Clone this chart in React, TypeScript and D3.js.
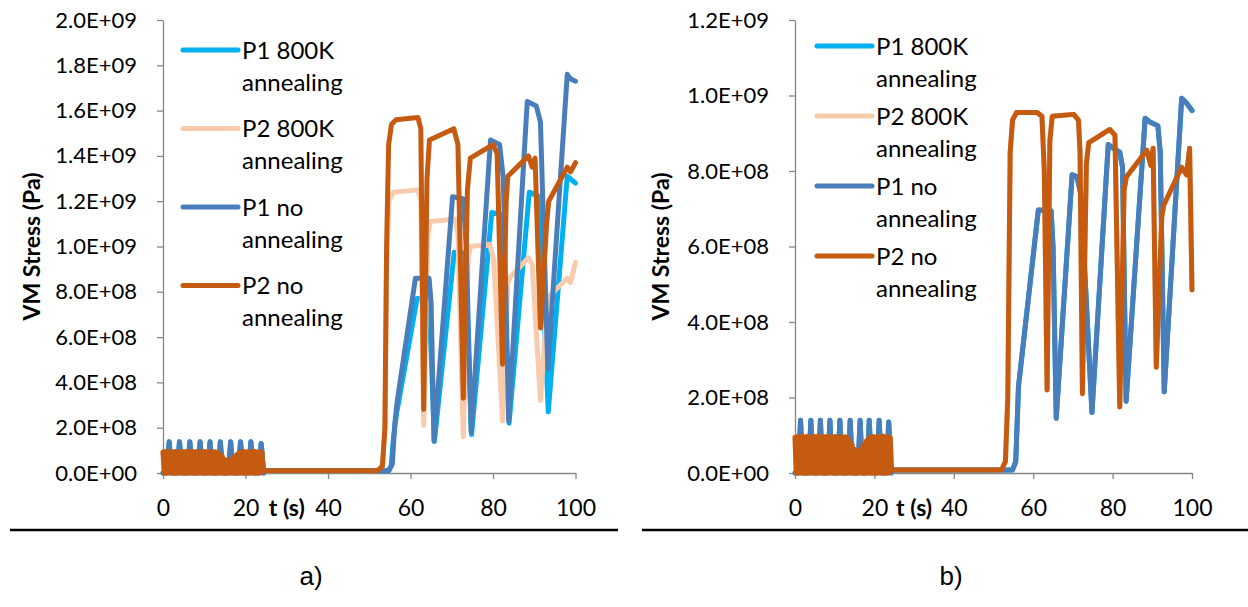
import * as d3 from "d3";
import { useEffect, useRef } from "react";

type Pt = [number, number];

// axes
const xTicks = [0, 20, 40, 60, 80, 100];
const yTicksA = [0, 2e8, 4e8, 6e8, 8e8, 1e9, 1.2e9, 1.4e9, 1.6e9, 1.8e9, 2e9];
const yTicksB = [0, 2e8, 4e8, 6e8, 8e8, 1e9, 1.2e9];

// series (drawing order = legend order)
const seriesLabels = [
  ["P1 800K", "annealing"],
  ["P2 800K", "annealing"],
  ["P1 no", "annealing"],
  ["P2 no", "annealing"],
];
const seriesColors = ["#00b0f0", "#f8cbad", "#4a7ebb", "#c55a11"];

// first 24 s: P1 oscillates in spikes, P2 in a dense band
const spikeTimesA = [1.5, 4, 6.5, 9, 11.4, 13.9, 16.4, 18.8, 21.3, 23.8];
const spikePeaksA = [1.38e8, 1.38e8, 1.38e8, 1.38e8, 1.38e8, 1.38e8, 1.38e8, 1.38e8, 1.38e8, 1.3e8];
const spikeTimesB = [1.4, 4, 6.4, 8.8, 11.3, 13.9, 16.4, 18.7, 21.2, 23.6];
const spikePeaksB = [1.4e8, 1.4e8, 1.4e8, 1.4e8, 1.4e8, 1.4e8, 1.4e8, 1.4e8, 1.4e8, 1.35e8];

const bandTimes = [0, 0.6, 1.2, 1.8, 2.4, 3, 3.6, 4.2, 4.8, 5.4, 6, 6.6, 7.2, 7.8, 8.4, 9, 9.6, 10.2, 10.8, 11.4,
  12, 12.6, 13.2, 13.8, 14.4, 15, 15.6, 16.2, 16.8, 17.4, 18, 18.6, 19.2, 19.8, 20.4, 21, 21.6, 22.2, 22.8, 23.4, 24];
const bandPeaksA = [9.3e7, 9.5e7, 9.4e7, 9.6e7, 9.3e7, 9.5e7, 9.4e7, 9.2e7, 9.5e7, 9.4e7, 9.6e7, 9.3e7, 9.5e7, 9.4e7,
  9.5e7, 9.3e7, 9.4e7, 9.5e7, 9.2e7, 9.4e7, 9.3e7, 9.4e7, 9.2e7, 8.4e7, 7.3e7, 6.0e7, 5.0e7, 5.6e7, 6.5e7, 7.4e7,
  8.3e7, 9.1e7, 9.4e7, 9.5e7, 9.3e7, 9.5e7, 9.4e7, 9.6e7, 9.3e7, 9.4e7, 9.2e7];
const bandPeaksB = [9.5e7, 9.7e7, 9.6e7, 9.8e7, 9.5e7, 9.7e7, 9.6e7, 9.4e7, 9.7e7, 9.6e7, 9.8e7, 9.5e7, 9.7e7, 9.6e7,
  9.7e7, 9.5e7, 9.6e7, 9.7e7, 9.4e7, 9.6e7, 9.5e7, 9.6e7, 9.4e7, 8.6e7, 7.5e7, 6.3e7, 5.3e7, 5.8e7, 6.7e7, 7.6e7,
  8.5e7, 9.3e7, 9.6e7, 9.7e7, 9.5e7, 9.7e7, 9.6e7, 9.8e7, 9.5e7, 9.6e7, 9.4e7];

// after 24 s (t, Pa)
const a_p1_800K: Pt[] = [[24.8, 1e7], [54.5, 1e7], [55.3, 3e7], [55.9, 1.6e8], [56.6, 2.6e8], [61.6, 7.7e8],
  [64.5, 7.7e8], [65.8, 1.4e8], [70.6, 9.75e8], [73.2, 9.7e8], [74.8, 1.7e8], [79.7, 1.15e9], [82.2, 1.14e9],
  [83.9, 2.2e8], [88.8, 1.24e9], [91.2, 1.22e9], [93.4, 2.7e8], [98, 1.31e9], [100, 1.28e9]];
const a_p2_800K: Pt[] = [[24.3, 1e7], [52, 1e7], [53.2, 3e7], [53.8, 2e8], [54.2, 9e8], [54.8, 1.2e9],
  [55.8, 1.24e9], [61.8, 1.25e9], [62.5, 1.2e9], [63.2, 2.1e8], [64.2, 1.05e9], [64.8, 1.11e9], [70.8, 1.12e9],
  [71.5, 1.05e9], [72.8, 1.6e8], [74, 9.5e8], [74.6, 1.0e9], [79.2, 1.01e9], [80.2, 9.4e8], [82.3, 2.3e8],
  [83.6, 8.4e8], [84.2, 8.65e8], [88.6, 9.5e8], [89.5, 9.2e8], [91.5, 3.2e8], [93.2, 7.5e8], [93.6, 7.8e8],
  [98, 8.6e8], [98.8, 8.4e8], [100, 9.3e8]];
const a_p1_no: Pt[] = [[24.8, 1e7], [54.8, 1e7], [55.6, 4e7], [56.2, 2.2e8], [56.8, 3.2e8], [61.2, 8.6e8],
  [64.5, 8.6e8], [65.0, 7.5e8], [65.7, 1.4e8], [70.2, 1.22e9], [72.8, 1.21e9], [73.5, 1.0e9], [74.7, 1.8e8],
  [79.4, 1.47e9], [81.6, 1.45e9], [82.5, 1.3e9], [83.8, 2.3e8], [88.3, 1.64e9], [90.5, 1.62e9], [91.5, 1.55e9],
  [93.3, 4.6e8], [98, 1.76e9], [98.8, 1.74e9], [100, 1.73e9]];
const a_p2_no: Pt[] = [[24.3, 1e7], [52, 1e7], [53.2, 3e7], [53.8, 2e8], [54.2, 1.0e9], [54.7, 1.45e9],
  [55.4, 1.54e9], [56.5, 1.56e9], [61.8, 1.57e9], [62.5, 1.52e9], [63.2, 2.8e8], [64, 1.3e9], [64.6, 1.47e9],
  [70.5, 1.52e9], [71.5, 1.45e9], [72.8, 3.3e8], [73.8, 1.25e9], [74.5, 1.39e9], [80, 1.45e9], [81, 1.41e9],
  [82.3, 4.8e8], [83.2, 1.2e9], [83.6, 1.31e9], [88.6, 1.4e9], [89.5, 1.35e9], [90.2, 1.39e9], [91.5, 6.4e8],
  [93, 1.1e9], [93.5, 1.2e9], [98, 1.35e9], [98.8, 1.33e9], [100, 1.37e9]];

// in b) the annealed curves lie right under the non-annealed ones
const b_p1: Pt[] = [[24.5, 8e6], [54.8, 8e6], [55.6, 3e7], [56.3, 2.3e8], [61.3, 6.97e8], [64.5, 6.95e8],
  [65.0, 6e8], [65.8, 1.45e8], [69.8, 7.9e8], [71, 7.85e8], [72, 7.4e8], [74.8, 1.6e8], [78.9, 8.7e8],
  [80.2, 8.6e8], [81.8, 8.5e8], [82.5, 8.1e8], [83.4, 1.9e8], [88.2, 9.4e8], [89.4, 9.3e8], [91.4, 9.2e8],
  [92.0, 8.5e8], [93.0, 2.15e8], [97.4, 9.93e8], [98.6, 9.8e8], [100, 9.6e8]];
const b_p2: Pt[] = [[24.3, 8e6], [52, 8e6], [53, 3e7], [53.6, 2e8], [54.2, 8.5e8], [54.8, 9.35e8], [55.8, 9.55e8],
  [61, 9.55e8], [62.2, 9.45e8], [62.8, 8e8], [63.5, 2.2e8], [64.2, 8.8e8], [64.8, 9.45e8], [70.2, 9.5e8],
  [71.4, 9.35e8], [71.8, 8.5e8], [72.4, 2.1e8], [73.4, 8.2e8], [74, 8.75e8], [79.3, 9.1e8], [80.6, 8.95e8],
  [81.8, 1.75e8], [82.9, 7.5e8], [83.5, 7.85e8], [88.6, 8.55e8], [89.6, 8.15e8], [90.2, 8.6e8], [91, 2.8e8],
  [92.4, 6.8e8], [92.9, 7.1e8], [97.4, 8.1e8], [98.6, 7.9e8], [99.4, 8.6e8], [100, 4.85e8]];

const font = "Lato, 'DejaVu Sans', sans-serif";
const axisGray = "#868686";

const spikes = (times: number[], peaks: number[]): Pt[] => {
  const pts: Pt[] = [[0, 0]];
  times.forEach((t, i) => {
    pts.push([t - 0.6, 0], [t, peaks[i]], [t + 0.6, 0]);
  });
  return pts;
};
const band = (times: number[], peaks: number[]): Pt[] => {
  const pts: Pt[] = [];
  times.forEach((t, i) => {
    pts.push([t, peaks[i]]);
    if (i < times.length - 1) pts.push([(t + times[i + 1]) / 2, 0]);
  });
  return pts;
};

const fmtSci = (v: number) => {
  if (v === 0) return "0.0E+00";
  const e = Math.floor(Math.log10(v) + 1e-9);
  const m = v / Math.pow(10, e);
  return `${m.toFixed(1)}E+${String(e).padStart(2, "0")}`;
};

const panels = [
  {
    left: 163, right: 575.5, yMax: 2e9, yTicks: yTicksA, titleX: 40,
    legX: 183, legY: 50, legStep: 78.5, tag: "a)", tagX: 311,
    series: [
      [...spikes(spikeTimesA, spikePeaksA), ...a_p1_800K],
      [...band(bandTimes, bandPeaksA), ...a_p2_800K],
      [...spikes(spikeTimesA, spikePeaksA), ...a_p1_no],
      [...band(bandTimes, bandPeaksA), ...a_p2_no],
    ],
  },
  {
    left: 795, right: 1192, yMax: 1.2e9, yTicks: yTicksB, titleX: 669,
    legX: 817, legY: 46, legStep: 70, tag: "b)", tagX: 951,
    series: [
      [...spikes(spikeTimesB, spikePeaksB), ...b_p1],
      [...band(bandTimes, bandPeaksB), ...b_p2],
      [...spikes(spikeTimesB, spikePeaksB), ...b_p1],
      [...band(bandTimes, bandPeaksB), ...b_p2],
    ],
  },
];

const App = () => {
  const svgRef = useRef<SVGSVGElement>(null);

  useEffect(() => {
    const svg = d3.select(svgRef.current);
    svg.selectAll("*").remove();
    const top = 20, bottom = 473;

    panels.forEach((p) => {
      const x = d3.scaleLinear().domain([0, 100]).range([p.left, p.right]);
      const y = d3.scaleLinear().domain([0, p.yMax]).range([bottom, top]);
      const g = svg.append("g");

      //y axis
      const ya = g.append("g")
        .attr("transform", `translate(${p.left},0)`)
        .call(d3.axisLeft(y).tickValues(p.yTicks).tickFormat((d) => fmtSci(+d)).tickSize(6).tickSizeOuter(0).tickPadding(20));
      ya.attr("font-family", font).attr("font-size", 22);
      ya.selectAll("path,line").attr("stroke", axisGray).attr("stroke-width", 1.3);
      ya.selectAll("text").attr("fill", "#000");

      //x axis
      const xa = g.append("g")
        .attr("transform", `translate(0,${bottom})`)
        .call(d3.axisBottom(x).tickValues(xTicks).tickSize(6).tickSizeOuter(0).tickPadding(21));
      xa.attr("font-family", font).attr("font-size", 23);
      xa.selectAll("path,line").attr("stroke", axisGray).attr("stroke-width", 1.3);
      xa.selectAll("text").attr("fill", "#000");

      g.append("text")
        .attr("x", (x(20) + x(40)) / 2).attr("y", 516)
        .attr("text-anchor", "middle").attr("font-family", font).attr("font-size", 23).attr("font-weight", "bold")
        .text("t (s)");

      g.append("text")
        .attr("transform", `translate(${p.titleX},${(top + bottom) / 2}) rotate(-90)`)
        .attr("text-anchor", "middle").attr("font-family", font).attr("font-size", 23).attr("font-weight", "bold")
        .text("VM Stress (Pa)");

      //lines
      const line = d3.line<Pt>().x((d) => x(d[0])).y((d) => y(d[1]));
      p.series.forEach((pts, i) => {
        g.append("path")
          .attr("d", line(pts))
          .attr("fill", "none")
          .attr("stroke", seriesColors[i])
          .attr("stroke-width", 5)
          .attr("stroke-linejoin", "round")
          .attr("stroke-linecap", "round");
      });

      //legend
      seriesLabels.forEach((lab, i) => {
        const ly = p.legY + i * p.legStep;
        g.append("line")
          .attr("x1", p.legX).attr("x2", p.legX + 55).attr("y1", ly).attr("y2", ly)
          .attr("stroke", seriesColors[i]).attr("stroke-width", 5).attr("stroke-linecap", "round");
        lab.forEach((s, k) => {
          g.append("text")
            .attr("x", p.legX + 59).attr("y", ly + k * 32).attr("dy", "0.36em")
            .attr("font-family", font).attr("font-size", 24).attr("fill", "#000")
            .text(s);
        });
      });

      //separator and tag
      g.append("line")
        .attr("x1", p.left - 153).attr("x2", p.left + 455).attr("y1", 530).attr("y2", 530)
        .attr("stroke", "#000").attr("stroke-width", 2.5);
      g.append("text")
        .attr("x", p.tagX).attr("y", 585).attr("text-anchor", "middle")
        .attr("font-family", "'Liberation Sans', Arial, sans-serif").attr("font-size", 26)
        .text(p.tag);
    });
  }, []);

  return (
    <svg ref={svgRef} width={1248} height={607} style={{ position: "absolute", left: 0, top: 0, background: "#fff" }}></svg>
  );
};

export default App;
